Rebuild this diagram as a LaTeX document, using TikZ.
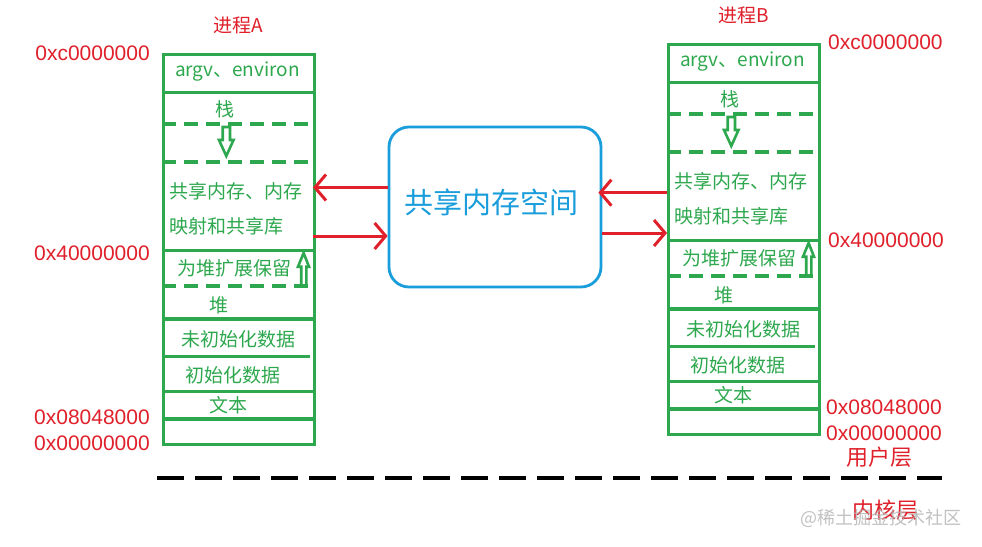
\documentclass[tikz,border=0pt]{standalone}
\usepackage{fontspec}
\setmainfont{Noto Sans CJK SC}
\newfontfamily\latinfont{Liberation Sans}
\usetikzlibrary{arrows.meta}
\definecolor{mgreen}{HTML}{2EA84E}
\definecolor{mred}{HTML}{E0202A}
\definecolor{mblue}{HTML}{1A9DDB}
\tikzset{
  seg/.style={draw=mgreen, line width=3.2pt},
  dseg/.style={draw=mgreen, line width=3.2pt, dash pattern=on 14pt off 8pt},
  thickseg/.style={draw=mgreen, line width=4.2pt},
  lbl/.style={text=mgreen, font=\fontsize{19}{21}\selectfont, inner sep=0pt},
  addr/.style={text=mred, font=\latinfont\fontsize{21}{23}\selectfont, inner sep=0pt},
  ttl/.style={text=mred, font=\fontsize{19}{21}\selectfont, inner sep=0pt},
  layer/.style={text=mred, font=\fontsize{22}{24}\selectfont, inner sep=0pt},
  hollow/.style={draw=mgreen, line width=2.6pt, line join=miter},
  rarrow/.style={draw=mred, line width=3pt, -{Straight Barb[length=11pt,width=26pt]}},
}
\newcommand\memcolumn{%
  \node[seg, minimum width=151pt, minimum height=390pt, anchor=north west, inner sep=0pt] (frame) at (162,52.7) {};
  \draw[seg] (162,92.7) -- (313,92.7);
  \draw[dseg] (162,124) -- (313,124);
  \draw[dseg] (162,162) -- (313,162);
  \draw[seg] (162,250.7) -- (313,250.7);
  \draw[dseg] (162,286) -- (313,286);
  \draw[seg] (162,319) -- (313,319);
  \draw[seg] (162,356.7) -- (310,356.7);
  \draw[seg] (162,391.7) -- (313,391.7);
  \draw[thickseg] (162,419.3) -- (313,419.3);
  \node[lbl] (argv) at (237.5,72) {argv、environ};
  \node[lbl] (stack) at (225,109) {栈};
  \draw[hollow] (222.7,127) -- (230,127) -- (230,140) -- (233.5,140) -- (226.3,156) -- (219,140) -- (222.7,140) -- cycle;
  \node[lbl, anchor=west] (shm1) at (169,191) {共享内存、内存};
  \node[lbl, anchor=west] (shm2) at (169,226) {映射和共享库};
  \node[lbl, anchor=west] (resv) at (177,268) {为堆扩展保留};
  \draw[hollow] (301.2,286) -- (301.2,266.7) -- (298,266.7) -- (303.6,253) -- (309,266.7) -- (306.4,266.7) -- (306.4,286);
  \node[lbl] (heap) at (219,305) {堆};
  \node[lbl, anchor=west] (bss) at (181,339) {未初始化数据};
  \node[lbl, anchor=west] (data) at (185,375) {初始化数据};
  \node[lbl] (text) at (228,405) {文本};
}
\begin{document}
\begin{tikzpicture}[x=1pt,y=-1pt]
\useasboundingbox (0,0) rectangle (982,546);
\fill[white] (0,0) rectangle (982,546);

\begin{scope}[name prefix=A-]
  \memcolumn
  \coordinate (r1) at (313,187.5);
  \coordinate (r2) at (313,236);
\end{scope}
\begin{scope}[shift={(505,-10)}, name prefix=B-]
  \memcolumn
  \coordinate (l1) at (162,202.7);
  \coordinate (l2) at (162,243);
\end{scope}

\node[ttl] (tA) at (238,25) {进程A};
\node[ttl] (tB) at (744,15) {进程B};

\node[addr, anchor=east] (a1) at (150,53) {0xc0000000};
\node[addr, anchor=east] (a2) at (150,253) {0x40000000};
\node[addr, anchor=east] (a3) at (150,417) {0x08048000};
\node[addr, anchor=east] (a4) at (150,443) {0x00000000};
\node[addr, anchor=west] (b1) at (828,42) {0xc0000000};
\node[addr, anchor=west] (b2) at (828,240) {0x40000000};
\node[addr, anchor=west] (b3) at (826,407) {0x08048000};
\node[addr, anchor=west] (b4) at (826,433) {0x00000000};

\node[draw=mblue, line width=2.8pt, rounded corners=20pt, minimum width=212pt, minimum height=160pt, inner sep=0pt] (shm) at (495,207) {};
\node[text=mblue, font=\fontsize{29}{32}\selectfont, inner sep=0pt] (shmtext) at (491,202) {共享内存空间};

\draw[rarrow] (shm.west |- A-r1) -- (A-r1);
\draw[rarrow] (A-r2) -- (shm.west |- A-r2);
\draw[rarrow] (B-l1) -- ([xshift=-4pt]shm.east |- B-l1);
\draw[rarrow] (shm.east |- B-l2) -- (B-l2);

\draw[black, line width=3.8pt, dash pattern=on 27pt off 11pt] (157,478) -- (942,478);
\node[layer] (user) at (879,457) {用户层};
\node[layer] (kernel) at (885,510) {内核层};
\node[text=gray!60, font=\fontsize{18}{20}\selectfont, inner sep=0pt, anchor=west, opacity=0.8] (wm) at (800,518) {@稀土掘金技术社区};
\end{tikzpicture}
\end{document}
